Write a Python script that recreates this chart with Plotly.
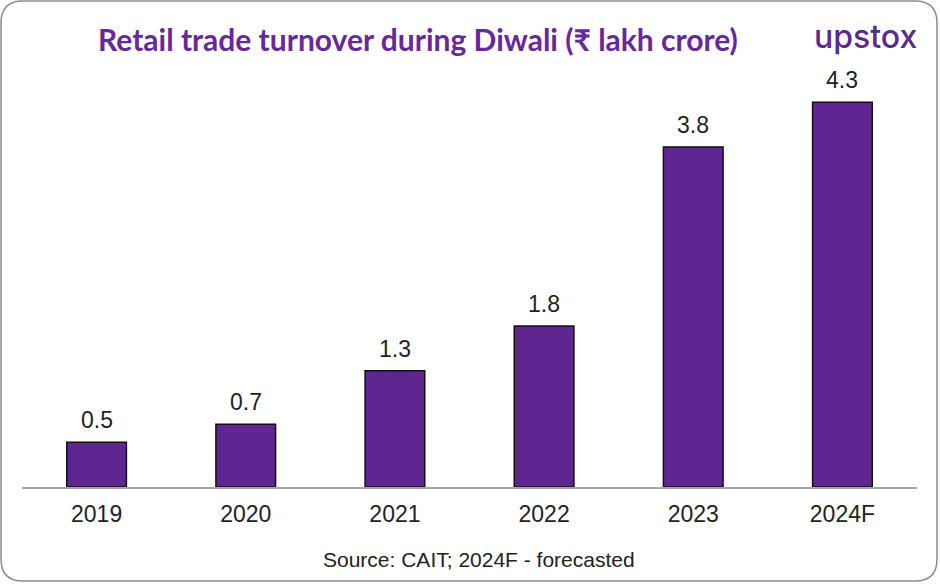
import plotly.graph_objects as go

categories = ["2019", "2020", "2021", "2022", "2023", "2024F"]
values = [0.5, 0.7, 1.3, 1.8, 3.8, 4.3]
value_labels = ["0.5", "0.7", "1.3", "1.8", "3.8", "4.3"]

W, H = 940, 584
x0, x1 = 22, 917
y_axis, y_top = 487, 80
px_per_unit = 89.5
ymax = (y_axis - y_top) / px_per_unit

purple_bar = "#5f2590"
purple_text = "#68289a"

fig = go.Figure()
fig.add_trace(go.Bar(
    x=categories, y=values,
    marker=dict(color=purple_bar, line=dict(color="#111111", width=1.5)),
    hoverinfo="skip",
))

for i, (v, t) in enumerate(zip(values, value_labels)):
    fig.add_annotation(x=i, y=v, text=t, showarrow=False, xanchor="center", yanchor="bottom",
                       yshift=7,
                       font=dict(family="Liberation Sans, Arial", size=23, color="#222222"))

# rounded border
r = 22
bx0, by0, bx1, by1 = 1, 1, 937, 581
def px(x): return x / W
def py(y): return 1 - y / H
path = (f"M {px(bx0+r)} {py(by0)} L {px(bx1-r)} {py(by0)} "
        f"Q {px(bx1)} {py(by0)} {px(bx1)} {py(by0+r)} "
        f"L {px(bx1)} {py(by1-r)} Q {px(bx1)} {py(by1)} {px(bx1-r)} {py(by1)} "
        f"L {px(bx0+r)} {py(by1)} Q {px(bx0)} {py(by1)} {px(bx0)} {py(by1-r)} "
        f"L {px(bx0)} {py(by0+r)} Q {px(bx0)} {py(by0)} {px(bx0+r)} {py(by0)} Z")
fig.add_shape(type="path", path=path, xref="paper", yref="paper",
              line=dict(color="#8c8c8c", width=1.5), layer="below")

fig.add_annotation(x=px(418), y=py(39), xref="paper", yref="paper", showarrow=False,
                   xanchor="center", yanchor="middle",
                   text="<b>Retail trade turnover during Diwali (₹ lakh crore)</b>",
                   font=dict(family="Lato, Open Sans", size=30, color=purple_text))
fig.add_annotation(x=px(865), y=py(37), xref="paper", yref="paper", showarrow=False,
                   xanchor="center", yanchor="middle",
                   text="upstox",
                   font=dict(family="Inter, Lato", size=32, color="#5a2a8c", weight=500))
fig.add_annotation(x=px(479), y=py(559), xref="paper", yref="paper", showarrow=False,
                   xanchor="center", yanchor="middle",
                   text="Source: CAIT; 2024F - forecasted",
                   font=dict(family="Liberation Sans, Arial", size=21, color="#222222"))

fig.update_layout(
    width=W, height=H,
    margin=dict(l=0, r=0, t=0, b=0),
    paper_bgcolor="white", plot_bgcolor="white",
    showlegend=False, bargap=0.6,
    xaxis=dict(type="category", categoryorder="array", categoryarray=categories,
               range=[-0.5, len(categories) - 0.5],
               domain=[x0 / W, x1 / W], showline=True, linecolor="#a6a6a6",
               linewidth=1.5, ticks="outside", ticklen=6, tickcolor="rgba(0,0,0,0)",
               tickfont=dict(family="Liberation Sans, Arial", size=23, color="#222222"),
               showgrid=False, fixedrange=True),
    yaxis=dict(domain=[1 - y_axis / H, 1 - y_top / H], range=[0, ymax], visible=False,
               showgrid=False, zeroline=False, fixedrange=True),
)

fig.write_html("out.html")
